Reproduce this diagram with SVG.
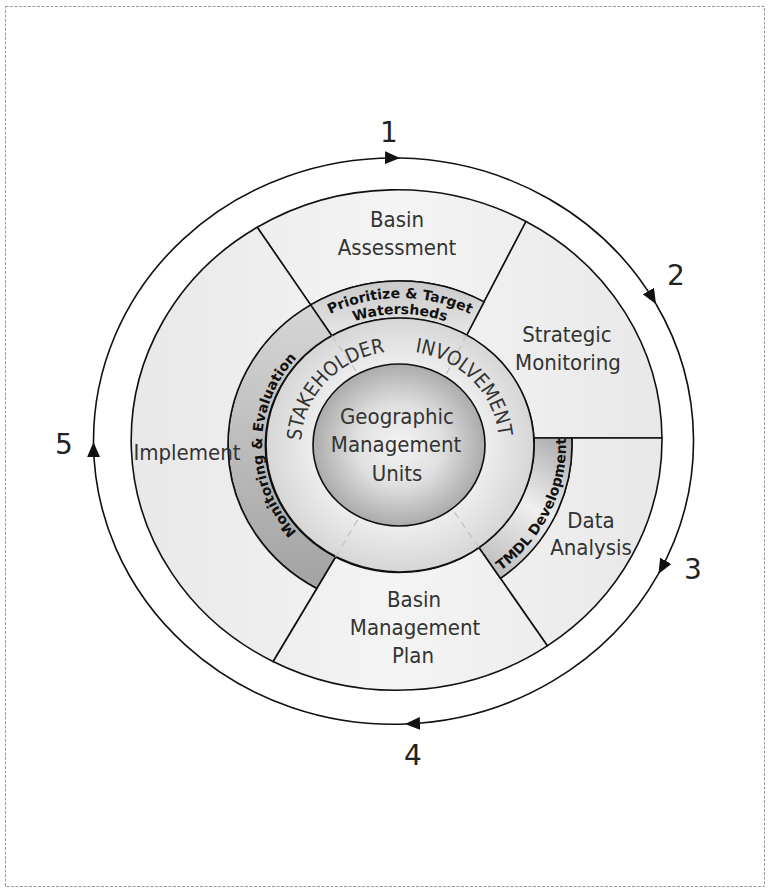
<svg xmlns="http://www.w3.org/2000/svg" width="770" height="892" viewBox="0 0 770 892">
<defs>
<style>
.lbl{font-family:"DejaVu Sans Condensed","DejaVu Sans",sans-serif;font-size:22px;fill:#333;text-anchor:middle}
.num{font-family:"DejaVu Sans",sans-serif;font-size:28px;fill:#222;text-anchor:middle}
.bt{font-family:"DejaVu Sans",sans-serif;font-weight:bold;font-size:14px;fill:#111}
.sk{font-family:"DejaVu Sans Condensed","DejaVu Sans",sans-serif;font-size:20px;fill:#333}
.sector{fill:url(#gSector);stroke:#111;stroke-width:1.6;stroke-linejoin:round}
.bandshape{stroke:#111;stroke-width:1.6;stroke-linejoin:round}
.faint{stroke:#c2c2c2;stroke-width:1.2;stroke-dasharray:7 5;fill:none}
.cyc{fill:none;stroke:#111;stroke-width:1.6;marker-end:url(#ah)}
</style>
<marker id="ah" viewBox="0 0 14 12" refX="14" refY="6" markerWidth="15" markerHeight="13" markerUnits="userSpaceOnUse" orient="auto">
<path d="M0,0 L14,6 L0,12 z" fill="#111"/>
</marker>
<linearGradient id="gSector" gradientUnits="userSpaceOnUse" x1="130" y1="0" x2="662" y2="0">
<stop offset="0" stop-color="#e8e8e8"/>
<stop offset="0.5" stop-color="#f4f4f4"/>
<stop offset="1" stop-color="#e8e8e8"/>
</linearGradient>
<radialGradient id="gStake" cx="0.5" cy="0.5" r="0.5">
<stop offset="0.6" stop-color="#f0f0f0"/>
<stop offset="1" stop-color="#d6d6d6"/>
</radialGradient>
<radialGradient id="gCenter" cx="0.5" cy="0.5" r="0.5">
<stop offset="0" stop-color="#f4f4f4"/>
<stop offset="0.5" stop-color="#e0e0e0"/>
<stop offset="1" stop-color="#ababab"/>
</radialGradient>
<linearGradient id="gPrio" gradientUnits="userSpaceOnUse" x1="0" y1="282" x2="0" y2="336">
<stop offset="0" stop-color="#cacaca"/>
<stop offset="1" stop-color="#e6e6e6"/>
</linearGradient>
<linearGradient id="gMon" gradientUnits="userSpaceOnUse" x1="0" y1="305" x2="0" y2="590">
<stop offset="0" stop-color="#d6d6d6"/>
<stop offset="1" stop-color="#a2a2a2"/>
</linearGradient>
<linearGradient id="gTmdl" gradientUnits="userSpaceOnUse" x1="572" y1="438" x2="495" y2="578">
<stop offset="0" stop-color="#a8a8a8"/>
<stop offset="0.5" stop-color="#efefef"/>
<stop offset="1" stop-color="#bababa"/>
</linearGradient>
<path id="pSk" d="M 301,445 A 99 94 0 0 1 499,445"/>
<path id="pPrio" d="M 246,445 A 154 147 0 0 1 554,445"/>
<path id="pWat" d="M 262,445 A 138 131 0 0 1 538,445"/>
<path id="pMon" d="M 331,558.4 A 138 131 0 0 1 331,331.6"/>
<path id="pTmdl" d="M 497.6,572.8 A 166 158 0 0 0 565.6,434"/>
</defs>

<rect x="0" y="0" width="770" height="892" fill="#ffffff"/>
<rect x="5.5" y="6.5" width="759" height="880" fill="none" stroke="#9a9a9a" stroke-width="1" stroke-dasharray="3 1.5"/>

<g id="basin-assessment">
<path class="sector" d="M 310.6,304.9 L 257.2,227.3 A 265 250 0 0 1 526,221.5 L 484.05,301.9 A 172 164 0 0 0 310.6,304.9 Z"/>
<text class="lbl" x="397" y="227">Basin</text>
<text class="lbl" x="397" y="255">Assessment</text>
</g>
<g id="strategic-monitoring">
<path class="sector" d="M 466.5,335.5 L 526,221.5 A 265 250 0 0 1 662,438 L 534,438 A 134 127 0 0 0 466.5,335.5 Z"/>
<text class="lbl" x="567" y="342">Strategic</text>
<text class="lbl" x="568" y="370">Monitoring</text>
</g>
<g id="data-analysis">
<path class="sector" d="M 571.8,438 L 662,438 A 265 250 0 0 1 547.3,645.8 L 500.4,578.3 A 172 164 0 0 0 571.8,438 Z"/>
<text class="lbl" x="591" y="528">Data</text>
<text class="lbl" x="591" y="555">Analysis</text>
</g>
<g id="basin-management-plan">
<path class="sector" d="M 479,547.5 L 547.3,645.8 A 265 250 0 0 1 273,661.5 L 335.5,557 A 134 127 0 0 0 479,547.5 Z"/>
<text class="lbl" x="414" y="607">Basin</text>
<text class="lbl" x="415" y="635">Management</text>
<text class="lbl" x="413" y="663">Plan</text>
</g>

<g id="prioritize-target-watersheds">
<path class="bandshape" fill="url(#gPrio)" d="M 331.8,335.7 L 310.6,304.9 A 172 164 0 0 1 484.05,301.9 L 466.5,335.5 A 134 127 0 0 0 331.8,335.7 Z"/>
<text class="bt"><textPath href="#pPrio" startOffset="50%" text-anchor="middle">Prioritize &amp; Target</textPath></text>
<text class="bt"><textPath href="#pWat" startOffset="50%" text-anchor="middle">Watersheds</textPath></text>
</g>
<g id="monitoring-evaluation">
<path class="bandshape" fill="url(#gMon)" d="M 310.6,304.9 A 172 164 0 0 0 316.7,588.5 L 335.5,557 A 134 127 0 0 1 331.8,335.7 Z"/>
<text class="bt"><textPath href="#pMon" startOffset="50%" text-anchor="middle">Monitoring &amp; Evaluation</textPath></text>
</g>
<g id="tmdl-development">
<path class="bandshape" fill="url(#gTmdl)" d="M 534,438 L 571.8,438 A 172 164 0 0 1 500.4,578.3 L 479,547.5 A 134 127 0 0 0 534,438 Z"/>
<text class="bt"><textPath href="#pTmdl" startOffset="50%" text-anchor="middle">TMDL Development</textPath></text>
</g>

<g id="implement">
<path class="sector" d="M 316.7,588.5 L 273,661.5 A 265 250 0 0 1 257.2,227.3 L 310.6,304.9 A 172 164 0 0 0 316.7,588.5 Z"/>
<text class="lbl" x="187" y="460">Implement</text>
</g>

<g id="stakeholder-involvement">
<ellipse cx="400" cy="445" rx="134" ry="127" fill="url(#gStake)" stroke="#111" stroke-width="1.6"/>
<line class="faint" x1="331.8" y1="335.7" x2="358.1" y2="373.9"/>
<line class="faint" x1="466.5" y1="335.5" x2="445.1" y2="376.5"/>
<line class="faint" x1="479" y1="547.5" x2="452" y2="508.7"/>
<line class="faint" x1="335.5" y1="557" x2="359.4" y2="517"/>
<text class="sk"><textPath href="#pSk" startOffset="45%" text-anchor="end">STAKEHOLDER</textPath></text>
<text class="sk"><textPath href="#pSk" startOffset="55%">INVOLVEMENT</textPath></text>
</g>

<g id="geographic-management-units">
<ellipse cx="399" cy="445" rx="86" ry="81" fill="url(#gCenter)" stroke="#111" stroke-width="1.6"/>
<text class="lbl" x="397" y="424">Geographic</text>
<text class="lbl" x="396" y="452">Management</text>
<text class="lbl" x="397" y="481">Units</text>
</g>

<g id="connectors">
<path class="cyc" d="M 93.5,442 A 300 283 0 0 1 400,158"/>
<path class="cyc" d="M 400,158 A 300 283 0 0 1 656,304"/>
<path class="cyc" d="M 656,304 A 300 283 0 0 1 658.4,573.9"/>
<path class="cyc" d="M 658.4,573.9 A 300 283 0 0 1 405,724"/>
<path class="cyc" d="M 405,724 A 300 283 0 0 1 93.5,442"/>
<text class="num" x="389" y="142">1</text>
<text class="num" x="676" y="285">2</text>
<text class="num" x="693" y="579">3</text>
<text class="num" x="413" y="765">4</text>
<text class="num" x="64" y="454">5</text>
</g>
</svg>
